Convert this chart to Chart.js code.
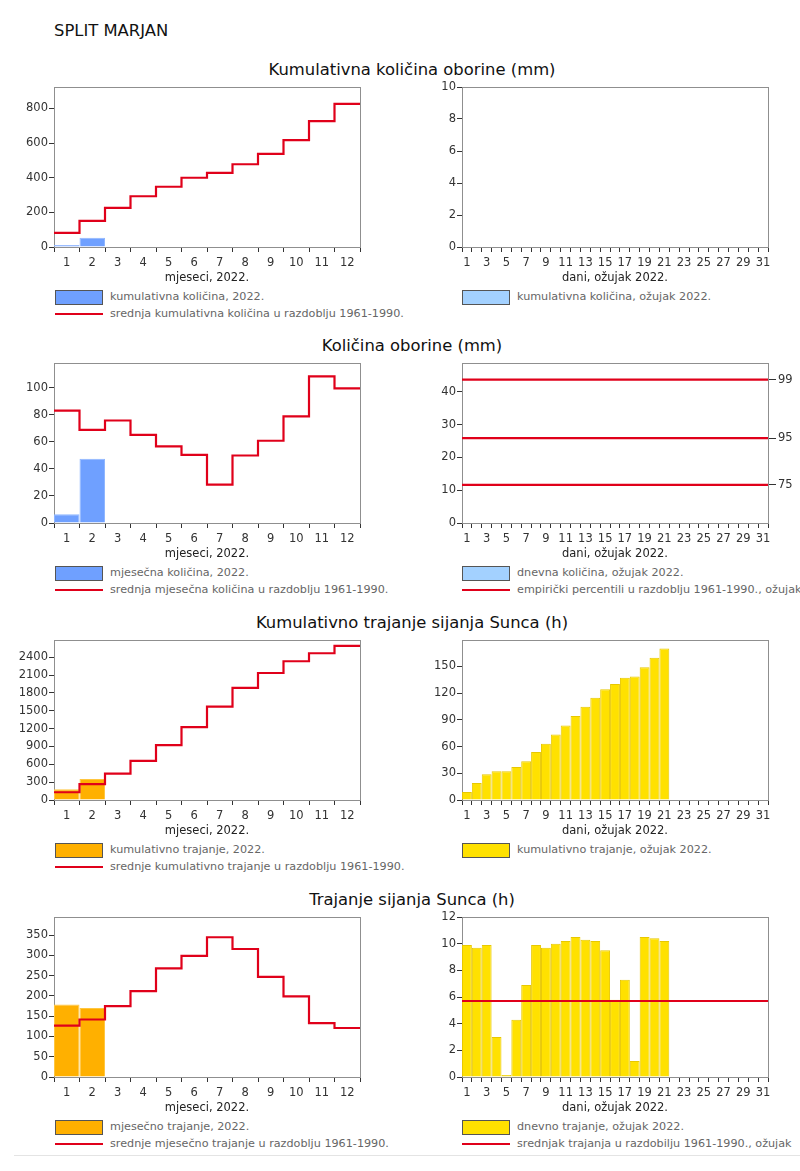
<!DOCTYPE html>
<html>
<head>
<meta charset="utf-8">
<script src="https://cdn.jsdelivr.net/npm/chart.js@4.4.1/dist/chart.umd.min.js"></script>
<style>
  body { margin: 0; background: #fff; font-family: 'DejaVu Sans', sans-serif; }
  #page { position: relative; width: 800px; height: 1171px; overflow: hidden; }
  canvas { position: absolute; }
  .station { position: absolute; left: 54px; top: 21px; font-size: 16.4px; color: #111; line-height: 20px; }
  .ptitle { position: absolute; left: 0; width: 824px; text-align: center; font-size: 16.4px; color: #111; line-height: 20px; }
  .leg { position: absolute; font-size: 11.2px; color: #666; white-space: nowrap; line-height: 16px; height: 16px; }
  .sw { display: inline-block; width: 46px; height: 13px; border: 1px solid #555; vertical-align: middle; margin-right: 7px; }
  .ln { display: inline-block; width: 48px; height: 2px; background: #e0001a; vertical-align: middle; margin-right: 7px; }
  .rule { position: absolute; left: 14px; right: 0; top: 1155px; height: 1px; background: #e4e4e4; }
</style>
</head>
<body>
<div id="page">
  <div class="station">SPLIT MARJAN</div>

  <div class="ptitle" style="top:60px">Kumulativna količina oborine (mm)</div>
  <canvas id="c1" width="400" height="210" style="left:0;top:75px"></canvas>
  <canvas id="c2" width="400" height="210" style="left:400px;top:75px"></canvas>
  <div class="leg" style="left:55px;top:289px"><span class="sw" style="background:#6fa0ff"></span>kumulativna količina, 2022.</div>
  <div class="leg" style="left:55px;top:306px"><span class="ln"></span>srednja kumulativna količina u razdoblju 1961-1990.</div>
  <div class="leg" style="left:462px;top:289px"><span class="sw" style="background:#a3d1ff"></span>kumulativna količina, ožujak 2022.</div>

  <div class="ptitle" style="top:336px">Količina oborine (mm)</div>
  <canvas id="c3" width="400" height="210" style="left:0;top:351px"></canvas>
  <canvas id="c4" width="400" height="210" style="left:400px;top:351px"></canvas>
  <div class="leg" style="left:55px;top:565px"><span class="sw" style="background:#6fa0ff"></span>mjesečna količina, 2022.</div>
  <div class="leg" style="left:55px;top:582px"><span class="ln"></span>srednja mjesečna količina u razdoblju 1961-1990.</div>
  <div class="leg" style="left:462px;top:565px"><span class="sw" style="background:#a3d1ff"></span>dnevna količina, ožujak 2022.</div>
  <div class="leg" style="left:462px;top:582px"><span class="ln"></span>empirički percentili u razdoblju 1961-1990., ožujak</div>

  <div class="ptitle" style="top:613px">Kumulativno trajanje sijanja Sunca (h)</div>
  <canvas id="c5" width="400" height="210" style="left:0;top:628px"></canvas>
  <canvas id="c6" width="400" height="210" style="left:400px;top:628px"></canvas>
  <div class="leg" style="left:55px;top:842px"><span class="sw" style="background:#ffb000"></span>kumulativno trajanje, 2022.</div>
  <div class="leg" style="left:55px;top:859px"><span class="ln"></span>srednje kumulativno trajanje u razdoblju 1961-1990.</div>
  <div class="leg" style="left:462px;top:842px"><span class="sw" style="background:#ffe100"></span>kumulativno trajanje, ožujak 2022.</div>

  <div class="ptitle" style="top:890px">Trajanje sijanja Sunca (h)</div>
  <canvas id="c7" width="400" height="210" style="left:0;top:905px"></canvas>
  <canvas id="c8" width="400" height="210" style="left:400px;top:905px"></canvas>
  <div class="leg" style="left:55px;top:1119px"><span class="sw" style="background:#ffb000"></span>mjesečno trajanje, 2022.</div>
  <div class="leg" style="left:55px;top:1136px"><span class="ln"></span>srednje mjesečno trajanje u razdoblju 1961-1990.</div>
  <div class="leg" style="left:462px;top:1119px"><span class="sw" style="background:#ffe100"></span>dnevno trajanje, ožujak 2022.</div>
  <div class="leg" style="left:462px;top:1136px"><span class="ln"></span>srednjak trajanja u razdobilju 1961-1990., ožujak</div>

  <div class="rule"></div>
</div>

<script>
// categories
const months = ['1', '2', '3', '4', '5', '6', '7', '8', '9', '10', '11', '12'];
const days = ['1', '2', '3', '4', '5', '6', '7', '8', '9', '10', '11', '12', '13', '14', '15', '16',
              '17', '18', '19', '20', '21', '22', '23', '24', '25', '26', '27', '28', '29', '30', '31'];

// precipitation (mm)
const precipCum2022 = [6.4, 54.0];
const precipCumMean = [82, 151, 226, 293, 348, 400, 428, 478, 538, 617, 727, 826];
const precipCumMarch = [0, 0, 0, 0, 0, 0, 0, 0, 0, 0, 0, 0, 0, 0, 0, 0, 0, 0, 0, 0, 0];
const precipMonth2022 = [6.4, 47.6];
const precipMonthMean = [83.3, 69.0, 75.9, 65.3, 56.7, 50.5, 28.4, 50.0, 60.9, 79.0, 108.6, 99.7];
const precipDailyMarch = [0, 0, 0, 0, 0, 0, 0, 0, 0, 0, 0, 0, 0, 0, 0, 0, 0, 0, 0, 0, 0];
const percentileValues = [11.6, 25.9, 43.7];
const percentileLabels = ['75', '95', '99'];

// sunshine duration (h)
const sunCum2022 = [180, 351];
const sunCumMean = [130, 268, 443, 658, 923, 1225, 1570, 1885, 2135, 2333, 2467, 2592];
const sunCumMarch = [9.0, 19.2, 29.0, 32.2, 32.3, 37.0, 43.6, 53.8, 63.2, 73.4, 83.6,
                     94.1, 104.5, 114.6, 124.3, 130.0, 137.2, 138.6, 149.0, 159.5, 170.0];
const sunMonth2022 = [179, 170.5];
const sunMonthMean = [127, 142, 175, 212, 268, 299, 345, 316, 247, 199, 133, 121];
const sunDailyMarch = [9.9, 9.7, 9.9, 3.0, 0.05, 4.3, 6.9, 9.9, 9.7, 10.0, 10.2,
                       10.5, 10.3, 10.2, 9.5, 5.8, 7.3, 1.2, 10.5, 10.4, 10.2];
const sunDailyMedian = 5.7;

const RED = '#e0001a';
const FONT = 'DejaVu Sans';
const tickFont = { family: FONT, size: 11.5 };

// grey box round the plot area, under the bars
const frame = {
  id: 'frame',
  beforeDatasetsDraw(chart) {
    const { ctx, chartArea: a } = chart;
    ctx.save();
    ctx.strokeStyle = '#8f8f8f';
    ctx.lineWidth = 1;
    ctx.strokeRect(Math.round(a.left) + 0.5, Math.round(a.top) + 0.5,
                   Math.round(a.width), Math.round(a.height));
    ctx.restore();
  }
};

function yAxis(max, step, width) {
  return {
    type: 'linear', position: 'left', min: 0, max: max,
    border: { display: false },
    grid: { drawOnChartArea: false, color: '#333', tickLength: 5 },
    afterBuildTicks(s) {
      s.ticks = [];
      for (let v = 0; v <= max + 1e-9; v += step) s.ticks.push({ value: v });
    },
    ticks: { color: '#333', font: tickFont, padding: 1, callback: v => String(v) },
    afterFit(s) { s.width = width; }
  };
}

function xAxis(title, oddOnly) {
  return {
    type: 'category', offset: true,
    border: { display: false },
    grid: { offset: true, drawOnChartArea: false, color: '#333', tickLength: 5 },
    ticks: {
      color: '#333', font: tickFont, padding: 4, autoSkip: false, maxRotation: 0,
      callback: function (v, i) { return oddOnly && i % 2 ? '' : this.getLabelForValue(v); }
    },
    title: { display: true, text: title, color: '#222', font: { family: FONT, size: 11.5 }, padding: 0 },
    afterFit(s) { s.height = 38; }
  };
}

function hiddenX(n) {
  return { type: 'linear', display: false, min: 0, max: n, offset: false };
}

// step line spanning the whole category width
function stepLine(vals) {
  const pts = [{ x: 0, y: vals[0] }];
  vals.forEach((v, i) => pts.push({ x: i + 0.5, y: v }));
  pts.push({ x: vals.length, y: vals[vals.length - 1] });
  return {
    type: 'line', data: pts, xAxisID: 'xl', yAxisID: 'y', stepped: 'middle',
    borderColor: RED, borderWidth: 2.2, pointRadius: 0, fill: false
  };
}

function flatLine(v, n) {
  return {
    type: 'line', data: [{ x: 0, y: v }, { x: n, y: v }], xAxisID: 'xl', yAxisID: 'y',
    borderColor: RED, borderWidth: 2.2, pointRadius: 0, fill: false
  };
}

function bars(vals, color, border) {
  return {
    type: 'bar', data: vals, xAxisID: 'x', yAxisID: 'y', grouped: false,
    backgroundColor: color, borderColor: border || color, borderWidth: border ? 1 : 0,
    minBarLength: border ? 2 : 0,
    inflateAmount: 0, categoryPercentage: 1, barPercentage: 1, order: 2
  };
}

function makeChart(id, labels, datasets, scales, padRight) {
  new Chart(document.getElementById(id), {
    type: 'bar',
    data: { labels: labels, datasets: datasets },
    options: {
      responsive: false, animation: false, devicePixelRatio: 1,
      layout: { padding: { top: 12, right: padRight, left: 0, bottom: 0 } },
      plugins: { legend: { display: false }, tooltip: { enabled: false } },
      scales: scales
    },
    plugins: [frame]
  });
}

const mX = 'mjeseci, 2022.';
const dX = 'dani, ožujak 2022.';

// 1. cumulative precipitation by month
makeChart('c1', months,
  [bars(precipCum2022, '#6fa0ff', '#8fb6ff'), stepLine(precipCumMean)],
  { x: xAxis(mX, false), xl: hiddenX(12), y: yAxis(924, 200, 54) }, 40);

// 2. cumulative precipitation March
makeChart('c2', days,
  [bars(precipCumMarch, '#a3d1ff')],
  { x: xAxis(dX, true), y: yAxis(10, 2, 62) }, 32);

// 3. monthly precipitation
makeChart('c3', months,
  [bars(precipMonth2022, '#6fa0ff', '#8fb6ff'), stepLine(precipMonthMean)],
  { x: xAxis(mX, false), xl: hiddenX(12), y: yAxis(118.5, 20, 54) }, 40);

// 4. daily precipitation March with percentiles
const pctScales = {
  x: xAxis(dX, true), xl: hiddenX(31), y: yAxis(48.8, 10, 62),
  y2: {
    type: 'linear', position: 'right', min: 0, max: 48.8,
    border: { display: false },
    grid: { drawOnChartArea: false, color: '#333', tickLength: 8 },
    afterBuildTicks(s) { s.ticks = percentileValues.map(v => ({ value: v })); },
    ticks: { color: '#333', font: tickFont, padding: 2, callback: (v, i) => percentileLabels[i] },
    afterFit(s) { s.width = 32; }
  }
};
makeChart('c4', days,
  [bars(precipDailyMarch, '#a3d1ff')].concat(percentileValues.map(v => flatLine(v, 31))),
  pctScales, 0);

// 5. cumulative sunshine by month
makeChart('c5', months,
  [bars(sunCum2022, '#ffb000', '#ffc640'), stepLine(sunCumMean)],
  { x: xAxis(mX, false), xl: hiddenX(12), y: yAxis(2690, 300, 54) }, 40);

// 6. cumulative sunshine March
makeChart('c6', days,
  [bars(sunCumMarch, '#ffe100', '#e8c800')],
  { x: xAxis(dX, true), y: yAxis(179.5, 30, 62) }, 32);

// 7. monthly sunshine
makeChart('c7', months,
  [bars(sunMonth2022, '#ffb000', '#ffc640'), stepLine(sunMonthMean)],
  { x: xAxis(mX, false), xl: hiddenX(12), y: yAxis(395, 50, 54) }, 40);

// 8. daily sunshine March
makeChart('c8', days,
  [bars(sunDailyMarch, '#ffe100', '#e8c800'), flatLine(sunDailyMedian, 31)],
  { x: xAxis(dX, true), xl: hiddenX(31), y: yAxis(12, 2, 62) }, 32);
</script>
</body>
</html>
